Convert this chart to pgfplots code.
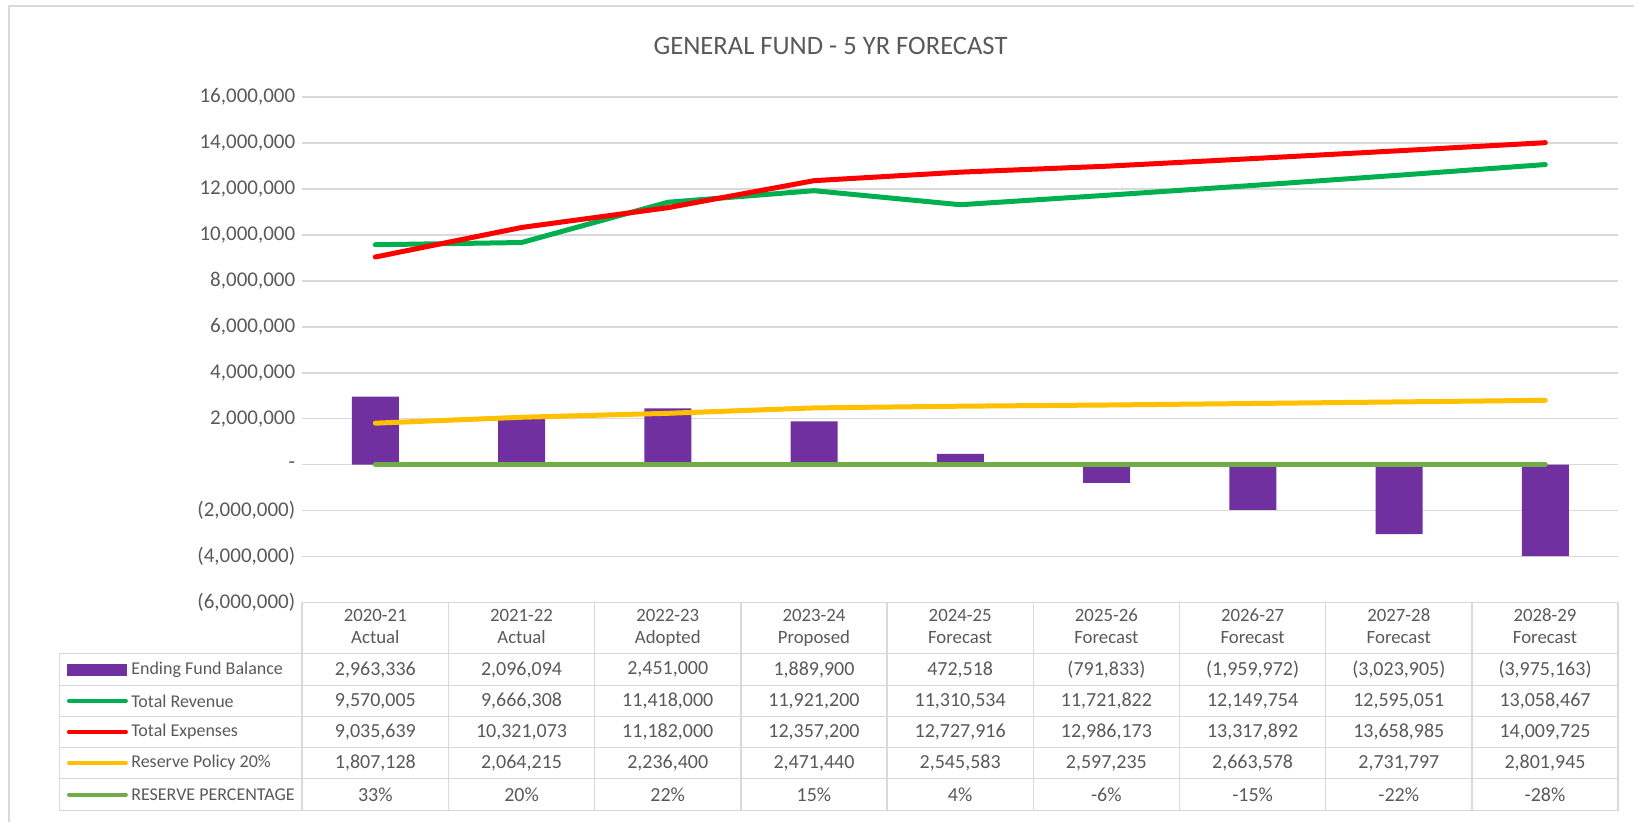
\documentclass[border=0pt]{standalone}
\usepackage{pgfplots}
\pgfplotsset{compat=1.18}
\usepackage{fontspec}
\setmainfont{Carlito}

\definecolor{txt}{HTML}{595959}
\definecolor{gridc}{HTML}{D9D9D9}
\definecolor{fundc}{HTML}{7030A0}
\definecolor{revc}{HTML}{00B050}
\definecolor{expc}{HTML}{FF0000}
\definecolor{resc}{HTML}{FFC000}
\definecolor{pctc}{HTML}{70AD47}

\newcommand{\tabfont}{\fontsize{10}{10.8}\selectfont}
\newcommand{\rowfont}{\fontsize{9}{10.8}\selectfont}
\newcommand{\headfont}{\fontsize{9.4}{10.8}\selectfont}
% one row of the data table: y centre, values
\newcommand{\tabrow}[2]{%
  \foreach \v [count=\i from 0] in {#2}
    \node[txt, font=\tabfont, inner sep=0pt] at (375.55+146.3*\i, #1) {\v};}

\begin{document}
\begin{tikzpicture}
% chart area, title (px units, y down)
\begin{scope}[x=0.5pt, y=-0.5pt]
  \path (0,0) rectangle (1635,822);
  \draw[gridc, line width=1pt] (9,822) -- (9,6) -- (1635,6);
  \node[txt, font=\fontsize{13.3}{15}\selectfont] at (831,46) {GENERAL FUND - 5 YR FORECAST};
\end{scope}

\begin{axis}[
    at={(151.2pt,-48.5pt)}, anchor=north west,
    scale only axis, width=658.5pt, height=253pt,
    xmin=-0.5, xmax=8.5,
    ymin=-6000000, ymax=16000000,
    xtick=\empty,
    ytick={-6000000,-4000000,-2000000,0,2000000,4000000,6000000,8000000,10000000,12000000,14000000,16000000},
    yticklabels={{(6,000,000)},{(4,000,000)},{(2,000,000)},{-},{2,000,000},{4,000,000},{6,000,000},{8,000,000},{10,000,000},{12,000,000},{14,000,000},{16,000,000}},
    scaled y ticks=false,
    /pgf/number format/assume math mode=true,
    yticklabel style={txt, font=\fontsize{10.5}{12}\selectfont},
    axis line style={draw=none},
    major tick length=0pt,
    ymajorgrids, grid style={gridc, line width=0.75pt},
    clip=false,
]
% Ending Fund Balance
\addplot[ybar, bar width=23.5pt, fill=fundc, draw=none] coordinates {
  (0,2963336) (1,2096094) (2,2451000) (3,1889900) (4,472518)
  (5,-791833) (6,-1959972) (7,-3023905) (8,-3975163)};
% Total Revenue
\addplot[revc, line width=2.5pt, line cap=round, line join=round] coordinates {
  (0,9570005) (1,9666308) (2,11418000) (3,11921200) (4,11310534)
  (5,11721822) (6,12149754) (7,12595051) (8,13058467)};
% Total Expenses
\addplot[expc, line width=2.5pt, line cap=round, line join=round] coordinates {
  (0,9035639) (1,10321073) (2,11182000) (3,12357200) (4,12727916)
  (5,12986173) (6,13317892) (7,13658985) (8,14009725)};
% Reserve Policy 20%
\addplot[resc, line width=2.5pt, line cap=round, line join=round] coordinates {
  (0,1807128) (1,2064215) (2,2236400) (3,2471440) (4,2545583)
  (5,2597235) (6,2663578) (7,2731797) (8,2801945)};
% Reserve percentage (plotted on the same axis)
\addplot[pctc, line width=2.5pt, line cap=round, line join=round] coordinates {
  (0,0.33) (1,0.20) (2,0.22) (3,0.15) (4,0.04)
  (5,-0.06) (6,-0.15) (7,-0.22) (8,-0.28)};
\end{axis}

% data table
\begin{scope}[x=0.5pt, y=-0.5pt]
  \begin{scope}[gridc, line width=0.75pt]
    \draw (302.4,602.7) -- (1619.1,602.7);
    \foreach \yy in {654,686,717,748,779,811}
      \draw (59.4,\yy) -- (1619.1,\yy);
    \draw (59.4,654) -- (59.4,811);
    \foreach \k in {0,...,9}
      \draw (302.4+146.3*\k,602.7) -- (302.4+146.3*\k,811);
  \end{scope}
  % header
  \foreach \a/\b [count=\i from 0] in {2020-21/Actual,2021-22/Actual,2022-23/Adopted,2023-24/Proposed,2024-25/Forecast,2025-26/Forecast,2026-27/Forecast,2027-28/Forecast,2028-29/Forecast}
    \node[txt, font=\headfont, align=center, inner sep=0pt] at (375.55+146.3*\i,628.5) {\a\strut\\\b\strut};
  % legend keys and row names
  \fill[fundc] (67,664) rectangle (127,676);
  \draw[revc, line width=2pt, line cap=round] (69,701.5) -- (126,701.5);
  \draw[expc, line width=2pt, line cap=round] (69,732.5) -- (126,732.5);
  \draw[resc, line width=2pt, line cap=round] (69,763.5) -- (126,763.5);
  \draw[pctc, line width=2pt, line cap=round] (69,795) -- (126,795);
  \node[txt, font=\rowfont, anchor=west, inner sep=0pt] at (131,670) {Ending Fund Balance};
  \node[txt, font=\rowfont, anchor=west, inner sep=0pt] at (131,701.5) {Total Revenue};
  \node[txt, font=\rowfont, anchor=west, inner sep=0pt] at (131,732.5) {Total Expenses};
  \node[txt, font=\rowfont, anchor=west, inner sep=0pt] at (131,763.5) {Reserve Policy 20\%};
  \node[txt, font=\rowfont, anchor=west, inner sep=0pt] at (131,795) {RESERVE PERCENTAGE};
  % values
  \tabrow{670}{{2,963,336},{2,096,094},{2,451,000},{1,889,900},{472,518},{(791,833)},{(1,959,972)},{(3,023,905)},{(3,975,163)}}
  \tabrow{701.5}{{9,570,005},{9,666,308},{11,418,000},{11,921,200},{11,310,534},{11,721,822},{12,149,754},{12,595,051},{13,058,467}}
  \tabrow{732.5}{{9,035,639},{10,321,073},{11,182,000},{12,357,200},{12,727,916},{12,986,173},{13,317,892},{13,658,985},{14,009,725}}
  \tabrow{763.5}{{1,807,128},{2,064,215},{2,236,400},{2,471,440},{2,545,583},{2,597,235},{2,663,578},{2,731,797},{2,801,945}}
  \tabrow{795}{33\%,20\%,22\%,15\%,4\%,-6\%,-15\%,-22\%,-28\%}
\end{scope}
\end{tikzpicture}
\end{document}
